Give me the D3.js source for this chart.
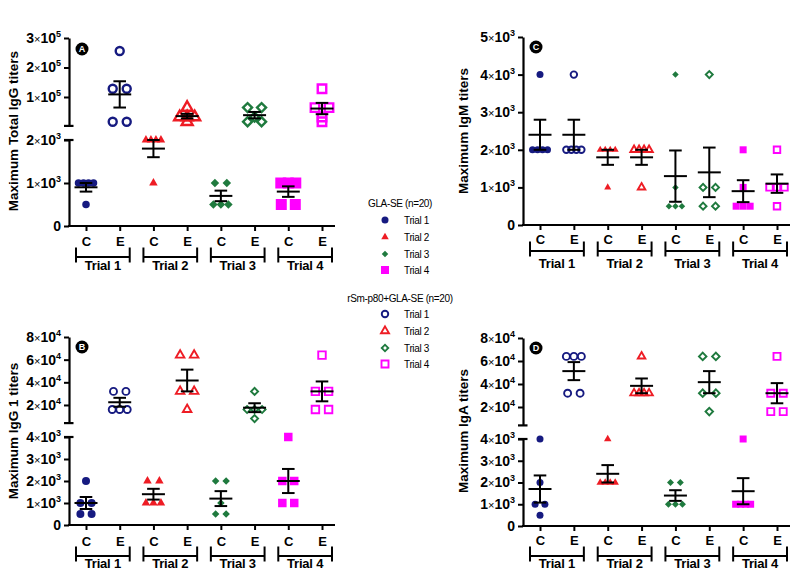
<!DOCTYPE html>
<html><head><meta charset="utf-8">
<script src="https://cdn.jsdelivr.net/npm/d3@7"></script>
<style>body{margin:0;background:#fff}svg{display:block}</style>
</head><body>
<svg id="chart" width="800" height="582"></svg>
<script>
// ---------------- DATA ----------------
const trials = ["Trial 1","Trial 2","Trial 3","Trial 4"];
const groups = ["C","E"];
const seriesColors = ["#161a80","#ee1c24","#1f7a3e","#ff00ff"];
const seriesShapes = ["circle","triangle","diamond","square"];

// Panel A – Maximum Total IgG titers (C = GLA-SE, E = rSm-p80+GLA-SE)
const totalIgG_C = [[1000,1000,1000,1000,500],[2000,2000,2000,2000,1000],[1000,1000,500,500,500],[1000,1000,1000,500,500]];
const totalIgG_E = [[256000,128000,128000,16000,16000],[64000,32000,32000,32000,16000],[64000,64000,32000,16000,16000],[128000,64000,64000,32000,16000]];
// Panel B – Maximum IgG 1 titers
const igG1_C = [[2000,1000,1000,500,500],[2000,2000,1000,1000,1000],[2000,2000,1000,500,500],[4000,2000,2000,1000,1000]];
const igG1_E = [[32000,32000,16000,16000,16000],[64000,64000,32000,32000,16000],[32000,16000,16000,16000,8000],[64000,32000,32000,16000,16000]];
// Panel C – Maximum IgM titers
const igM_C = [[4000,2000,2000,2000,2000],[2000,2000,2000,2000,1000],[4000,1000,500,500,500],[2000,1000,500,500,500]];
const igM_E = [[4000,2000,2000,2000,2000],[2000,2000,2000,2000,1000],[4000,1000,1000,500,500],[2000,1000,1000,1000,500]];
// Panel D – Maximum IgA titers
const igA_C = [[4000,2000,1000,1000,500],[4000,2000,2000,2000,2000],[2000,2000,1000,1000,1000],[4000,1000,1000,1000,1000]];
const igA_E = [[64000,64000,64000,32000,32000],[64000,32000,32000,32000,32000],[64000,64000,32000,32000,16000],[64000,32000,32000,16000,16000]];

// tick values and labels
const ticksA_lower = [0,1000,2000],            labelsA_lower = ["0","1×10^3","2×10^3"];
const ticksA_upper = [100000,200000,300000],    labelsA_upper = ["1×10^5","2×10^5","3×10^5"];
const ticksB_lower = [0,1000,2000,3000,4000],   labelsB_lower = ["0","1×10^3","2×10^3","3×10^3","4×10^3"];
const ticksB_upper = [20000,40000,60000,80000], labelsB_upper = ["2×10^4","4×10^4","6×10^4","8×10^4"];
const ticksC = [0,1000,2000,3000,4000,5000],    labelsC = ["0","1×10^3","2×10^3","3×10^3","4×10^3","5×10^3"];
const ticksD_lower = ticksB_lower, labelsD_lower = labelsB_lower;
const ticksD_upper = ticksB_upper, labelsD_upper = labelsB_upper;

const legendTitles = ["GLA-SE (n=20)","rSm-p80+GLA-SE (n=20)"];

// ---------------- LAYOUT ----------------
const FONT = "'Liberation Sans', Arial, Helvetica, sans-serif";
const panels = [
 {badge:"A", title:"Maximum Total IgG titers", C: totalIgG_C, E: totalIgG_E,
  axisX:69, xRange:[86,322], xEnd:335, axisY:226, ceY:246, brY:257, trY:270, badgeXY:[82,49], titleXY:[13,131],
  segs:[{domain:[0,2000], range:[226,140], ticks:ticksA_lower, labels:labelsA_lower},
        {domain:[2000,300000], range:[125.9,38], ticks:ticksA_upper, labels:labelsA_upper}],
  filled:[7.5,8.5,8.5,11], open:[8,11,9,8.5], sw:2.4},
 {badge:"B", title:"Maximum IgG 1 titers", C: igG1_C, E: igG1_E,
  axisX:69, xRange:[86,322], xEnd:335, axisY:525, ceY:546, brY:556, trY:568, badgeXY:[82,347], titleXY:[13,431],
  segs:[{domain:[0,4000], range:[525,437], ticks:ticksB_lower, labels:labelsB_lower},
        {domain:[4000,80000], range:[423.1,337], ticks:ticksB_upper, labels:labelsB_upper}],
  filled:[8,8.5,7.5,8.5], open:[7,8.5,7,7.5], sw:1.9},
 {badge:"C", title:"Maximum IgM titers", C: igM_C, E: igM_E,
  axisX:523, xRange:[540,777], xEnd:790, axisY:225, ceY:243.5, brY:251, trY:267.5, badgeXY:[536,47], titleXY:[463,131],
  segs:[{domain:[0,5000], range:[225,37], ticks:ticksC, labels:labelsC}],
  filled:[7,7,6.5,7], open:[6.5,7.5,7,6.5], sw:1.9},
 {badge:"D", title:"Maximum IgA titers", C: igA_C, E: igA_E,
  axisX:523, xRange:[540,777], xEnd:790, axisY:526, ceY:545, brY:556, trY:568, badgeXY:[536,348], titleXY:[463,431],
  segs:[{domain:[0,4000], range:[526,439], ticks:ticksD_lower, labels:labelsD_lower},
        {domain:[4000,80000], range:[425.4,338], ticks:ticksD_upper, labels:labelsD_upper}],
  filled:[7,7.5,7,7], open:[7,7.5,7.5,7], sw:1.9}
];

const svg = d3.select("#chart");

function symbolPath(shape, w){
  if(shape==="circle") return d3.symbol(d3.symbolCircle, Math.PI*w*w/4)();
  if(shape==="triangle") return d3.symbol(d3.symbolTriangle, Math.sqrt(3)/4*w*w)();
  if(shape==="diamond") return d3.symbol(d3.symbolSquare, w*w/2)();
  return d3.symbol(d3.symbolSquare, w*w)();
}
function symbolTransform(shape, x, y){
  return `translate(${x},${y})` + (shape==="diamond" ? " rotate(45)" : "");
}

function writeLabel(textSel, lab){
  textSel.text(null);
  if(lab.indexOf("×")<0){ textSel.text(lab); return; }
  const m = lab.split("×")[0], rest = lab.split("×")[1];
  const base = rest.split("^")[0], ex = rest.split("^")[1];
  textSel.append("tspan").text(m);
  textSel.append("tspan").attr("font-size",11).attr("font-weight","normal").text("×");
  textSel.append("tspan").text(base);
  textSel.append("tspan").attr("font-size",9).attr("dy",-6).text(ex);
}

function drawPanel(p){
  const g = svg.append("g");
  const keys = [];
  trials.forEach((t,i)=>groups.forEach(gr=>keys.push(i+"-"+gr)));
  const x = d3.scalePoint().domain(keys).range(p.xRange);
  const segs = p.segs.map(s=>Object.assign({}, s, {scale:d3.scaleLinear().domain(s.domain).range(s.range)}));
  const segOf = v => segs.find(s=>v<=s.domain[1]) || segs[segs.length-1];
  const yOf = v => segOf(v).scale(v);

  // y axes (one per segment)
  segs.forEach((s,si)=>{
    const ag = g.append("g").attr("transform",`translate(${p.axisX},0)`)
      .call(d3.axisLeft(s.scale).tickValues(s.ticks).tickSize(5).tickSizeOuter(0).tickPadding(3));
    ag.select(".domain").attr("stroke","#000").attr("stroke-width",2.2);
    ag.selectAll(".tick line").attr("stroke","#000").attr("stroke-width",2);
    ag.selectAll(".tick text").attr("font-family",FONT).attr("font-size",14).attr("font-weight","bold").attr("fill","#000")
      .each(function(d,i){ writeLabel(d3.select(this), s.labels[i]); });
    // break caps
    if(segs.length>1){
      const yEnd = si===0 ? s.range[1] : s.range[0];
      g.append("line").attr("x1",p.axisX-5).attr("x2",p.axisX+4.5).attr("y1",yEnd).attr("y2",yEnd)
        .attr("stroke","#000").attr("stroke-width",2.2);
    }
  });

  // x axis
  const xa = g.append("g").attr("transform",`translate(0,${p.axisY})`)
    .call(d3.axisBottom(x).tickSize(5).tickSizeOuter(0).tickFormat(k=>k.split("-")[1]));
  xa.select(".domain").remove();
  xa.selectAll(".tick line").attr("stroke","#000").attr("stroke-width",2);
  xa.selectAll(".tick text").attr("y",p.ceY-p.axisY).attr("dy",0)
    .attr("font-family",FONT).attr("font-size",13).attr("font-weight","bold").attr("fill","#000");
  g.append("line").attr("x1",p.axisX-1).attr("x2",p.xEnd).attr("y1",p.axisY).attr("y2",p.axisY)
    .attr("stroke","#000").attr("stroke-width",2.2);

  // trial brackets
  trials.forEach((t,i)=>{
    const x0 = x(i+"-C")-10, x1 = x(i+"-E")+10;
    const bg = g.append("g").attr("stroke","#000").attr("stroke-width",2);
    bg.append("line").attr("x1",x0).attr("x2",x1).attr("y1",p.brY).attr("y2",p.brY);
    [x0,x1].forEach(xx=>bg.append("line").attr("x1",xx).attr("x2",xx).attr("y1",p.brY-9.5).attr("y2",p.brY+5.5));
    g.append("text").attr("x",(x0+x1)/2).attr("y",p.trY).attr("text-anchor","middle")
      .attr("font-family",FONT).attr("font-size",13).attr("font-weight","bold").attr("letter-spacing",-0.2).text(t);
  });

  // points
  const pts = g.append("g");
  trials.forEach((t,i)=>{
    groups.forEach(gr=>{
      const vals = gr==="C" ? p.C[i] : p.E[i];
      const open = gr==="E";
      const shape = seriesShapes[i], col = seriesColors[i];
      const w = open ? p.open[i] : p.filled[i];
      const outer = open ? w + p.sw : w;
      const cx = x(i+"-"+gr);
      const byVal = d3.group(vals, v=>v);
      byVal.forEach((arr, v)=>{
        const n = arr.length;
        let s = n===2 ? Math.min(1.4*outer, 14) : Math.min(outer, 15/(Math.max(n-1,1)));
        arr.forEach((vv,k)=>{
          const dx = (k-(n-1)/2)*s;
          pts.append("path").attr("d",symbolPath(shape,w))
            .attr("transform",symbolTransform(shape,cx+dx,yOf(vv)))
            .attr("fill",open?"none":col).attr("stroke",open?col:"none").attr("stroke-width",open?p.sw:0);
        });
      });
      // mean ± SEM
      const m = d3.mean(vals), se = d3.deviation(vals)/Math.sqrt(vals.length);
      const sc = segOf(m).scale;
      const eg = g.append("g").attr("stroke","#000").attr("stroke-width",2);
      eg.append("line").attr("x1",cx-11.5).attr("x2",cx+11.5).attr("y1",sc(m)).attr("y2",sc(m));
      eg.append("line").attr("x1",cx).attr("x2",cx).attr("y1",sc(m-se)).attr("y2",sc(m+se));
      [m-se,m+se].forEach(v=>eg.append("line").attr("x1",cx-6.3).attr("x2",cx+6.3).attr("y1",sc(v)).attr("y2",sc(v)));
    });
  });

  // badge
  g.append("circle").attr("cx",p.badgeXY[0]).attr("cy",p.badgeXY[1]).attr("r",6.5).attr("fill","#000");
  g.append("text").attr("x",p.badgeXY[0]).attr("y",p.badgeXY[1]+3.2).attr("text-anchor","middle")
    .attr("font-family",FONT).attr("font-size",9).attr("font-weight","bold").attr("fill","#fff").text(p.badge);

  // y title
  g.append("text").attr("transform",`translate(${p.titleXY[0]},${p.titleXY[1]}) rotate(-90)`)
    .attr("text-anchor","middle").attr("dominant-baseline","central")
    .attr("font-family",FONT).attr("font-size",13.5).attr("font-weight","bold").text(p.title);
}

panels.forEach(drawPanel);

// legend
const legendLayout = [{hy:203, ys:[220,237,254,270], open:false},{hy:298, ys:[314,331,348,364], open:true}];
const legSizesFilled = [7,7.5,6.5,8], legSizesOpen = [6.5,8,6.5,7];
legendLayout.forEach((L,li)=>{
  svg.append("text").attr("x",400).attr("y",L.hy+3.5).attr("text-anchor","middle")
    .attr("font-family",FONT).attr("font-size",10).attr("letter-spacing",-0.35).text(legendTitles[li]);
  trials.forEach((t,i)=>{
    const w = L.open ? legSizesOpen[i] : legSizesFilled[i];
    svg.append("path").attr("d",symbolPath(seriesShapes[i],w))
      .attr("transform",symbolTransform(seriesShapes[i],385,L.ys[i]))
      .attr("fill",L.open?"none":seriesColors[i]).attr("stroke",L.open?seriesColors[i]:"none").attr("stroke-width",L.open?1.9:0);
    svg.append("text").attr("x",404).attr("y",L.ys[i]+3.5)
      .attr("font-family",FONT).attr("font-size",10).attr("letter-spacing",-0.35).text(t);
  });
});
</script>
</body></html>
